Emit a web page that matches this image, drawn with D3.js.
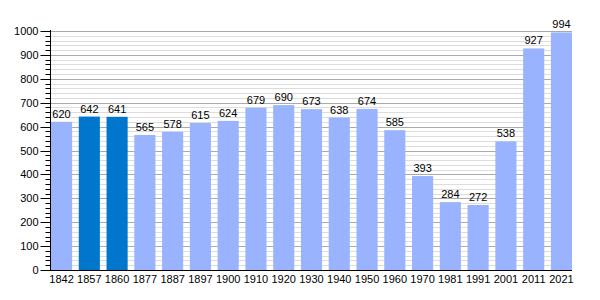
<!DOCTYPE html>
<html>
<head>
<meta charset="utf-8">
<script src="https://cdn.jsdelivr.net/npm/d3@7"></script>
<style>
  body { margin: 0; background: #fff; }
  text { font-family: "Liberation Sans", Arial, sans-serif; font-size: 11px; fill: #000; }
</style>
</head>
<body>
<div id="chart"></div>
<script>
// data
const years = ["1842", "1857", "1860", "1877", "1887", "1897", "1900", "1910", "1920", "1930",
               "1940", "1950", "1960", "1970", "1981", "1991", "2001", "2011", "2021"];
const population = [620, 642, 641, 565, 578, 615, 624, 679, 690, 673,
                    638, 674, 585, 393, 284, 272, 538, 927, 994];
const highlighted = ["1857", "1860"];
const yTicks = [0, 100, 200, 300, 400, 500, 600, 700, 800, 900, 1000];

const W = 600, H = 300;
const plot = { left: 50.5, right: 572, top: 31, bottom: 270 };

const svg = d3.select('#chart').append('svg')
  .attr('width', W)
  .attr('height', H);

const x = d3.scaleBand()
  .domain(years)
  .range([plot.left + 0.5, plot.right])
  .paddingInner(0.24)
  .paddingOuter(0);

const y = d3.scaleLinear()
  .domain([0, 1000])
  .range([plot.bottom, plot.top]);

// minor grid every 20, major every 100
const minor = d3.range(20, 1001, 20).filter(v => v % 100 !== 0);
svg.append('g').selectAll('line')
  .data(minor)
  .join('line')
  .attr('x1', plot.left).attr('x2', plot.right)
  .attr('y1', d => Math.round(y(d)) + 0.5).attr('y2', d => Math.round(y(d)) + 0.5)
  .attr('stroke', '#dddddd');

svg.append('g').selectAll('line')
  .data(yTicks.filter(v => v > 0))
  .join('line')
  .attr('x1', plot.left).attr('x2', plot.right)
  .attr('y1', d => Math.round(y(d)) + 0.5).attr('y2', d => Math.round(y(d)) + 0.5)
  .attr('stroke', '#aaaaaa');

// bars
svg.append('g').selectAll('rect')
  .data(years)
  .join('rect')
  .attr('x', (d) => x(d))
  .attr('width', x.bandwidth())
  .attr('y', (d, i) => y(population[i]))
  .attr('height', (d, i) => y(0) - y(population[i]))
  .attr('fill', d => highlighted.includes(d) ? '#0077cc' : '#99b3ff');

// value labels
svg.append('g').selectAll('text')
  .data(years)
  .join('text')
  .attr('x', d => x(d) + x.bandwidth() / 2)
  .attr('y', (d, i) => y(population[i]) - 4)
  .attr('text-anchor', 'middle')
  .text((d, i) => population[i]);

// y axis with major and minor ticks on the left
const yAxisG = svg.append('g');
yAxisG.selectAll('line.minor')
  .data(d3.range(0, 1001, 20))
  .join('line')
  .attr('class', 'minor')
  .attr('x1', plot.left - 5).attr('x2', plot.left)
  .attr('y1', d => Math.round(y(d)) + 0.5).attr('y2', d => Math.round(y(d)) + 0.5)
  .attr('stroke', '#000');
yAxisG.selectAll('line.major')
  .data(yTicks)
  .join('line')
  .attr('class', 'major')
  .attr('x1', plot.left - 10).attr('x2', plot.left)
  .attr('y1', d => Math.round(y(d)) + 0.5).attr('y2', d => Math.round(y(d)) + 0.5)
  .attr('stroke', '#000');
yAxisG.selectAll('text')
  .data(yTicks)
  .join('text')
  .attr('x', plot.left - 12)
  .attr('y', d => y(d) + 4)
  .attr('text-anchor', 'end')
  .text(d => d);
yAxisG.append('line')
  .attr('x1', plot.left).attr('x2', plot.left)
  .attr('y1', plot.top - 1).attr('y2', plot.bottom + 1)
  .attr('stroke', '#000');

// x axis
svg.append('line')
  .attr('x1', plot.left).attr('x2', plot.right)
  .attr('y1', plot.bottom + 0.5).attr('y2', plot.bottom + 0.5)
  .attr('stroke', '#000');
svg.append('g').selectAll('text')
  .data(years)
  .join('text')
  .attr('x', d => x(d) + x.bandwidth() / 2)
  .attr('y', plot.bottom + 13)
  .attr('text-anchor', 'middle')
  .text(d => d);
</script>
</body>
</html>
